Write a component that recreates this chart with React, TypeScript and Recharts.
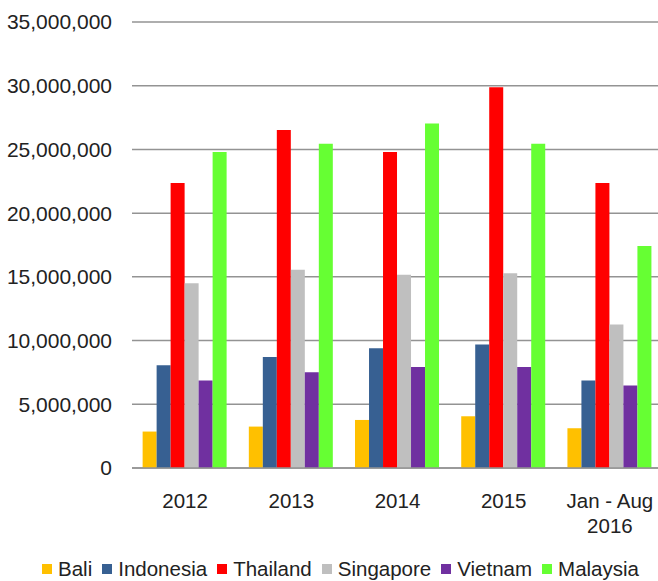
import React from "react";
import { BarChart, Bar, XAxis, YAxis, CartesianGrid, Legend } from "recharts";

if (typeof document !== "undefined") {
  document.body.style.margin = "0";
}

const categories = ["2012", "2013", "2014", "2015", "Jan - Aug\n2016"];
const seriesNames = ["Bali", "Indonesia", "Thailand", "Singapore", "Vietnam", "Malaysia"];
const bali = [2860000, 3250000, 3770000, 4060000, 3120000];
const indonesia = [8060000, 8720000, 9400000, 9690000, 6860000];
const thailand = [22360000, 26520000, 24790000, 29870000, 22360000];
const singapore = [14500000, 15550000, 15160000, 15290000, 11260000];
const vietnam = [6860000, 7520000, 7930000, 7930000, 6470000];
const malaysia = [24790000, 25440000, 27040000, 25440000, 17430000];
const yTicks = [0, 5000000, 10000000, 15000000, 20000000, 25000000, 30000000, 35000000];

const colors = ["#FFC000", "#376092", "#FF0000", "#BFBFBF", "#7030A0", "#66FF33"];
const seriesValues = [bali, indonesia, thailand, singapore, vietnam, malaysia];

const data = categories.map((c, i) => {
  const row: any = { category: c };
  seriesNames.forEach((s, j) => {
    row[s] = seriesValues[j][i];
  });
  return row;
});

const FONT = "'Liberation Sans', Arial, sans-serif";
const TEXT = "#222222";

const XTick = (props: any) => {
  const { x, y, payload } = props;
  const lines = String(payload.value).split("\n");
  return (
    <text x={x} y={y} textAnchor="middle" fill={TEXT} fontSize={20.5} fontFamily={FONT}>
      {lines.map((l, i) => (
        <tspan key={i} x={x} dy={i === 0 ? "0.71em" : 25}>
          {l}
        </tspan>
      ))}
    </text>
  );
};

const LegendContent = () => (
  <div
    style={{
      display: "flex",
      justifyContent: "center",
      alignItems: "center",
      height: 24,
      paddingLeft: 18,
      fontFamily: FONT,
      fontSize: 20.5,
      color: TEXT,
      whiteSpace: "nowrap",
    }}
  >
    {seriesNames.map((s, i) => (
      <div key={s} style={{ display: "flex", alignItems: "center", marginRight: i < seriesNames.length - 1 ? 10 : 0 }}>
        <span style={{ display: "inline-block", width: 10, height: 10, background: colors[i], marginRight: 6 }} />
        <span style={{ lineHeight: "24px" }}>{s}</span>
      </div>
    ))}
  </div>
);

export default function App() {
  return (
    <div style={{ width: 658, height: 581, overflow: "hidden", background: "#fff" }}>
      <BarChart
        width={680}
        height={581}
        data={data}
        margin={{ top: 22, right: 17, bottom: 0, left: 0 }}
        barCategoryGap="10%"
        barGap={0}
      >
        <CartesianGrid vertical={false} stroke="#939393" strokeWidth={1.5} />
        <XAxis
          dataKey="category"
          interval={0}
          height={89}
          tickLine={false}
          tickSize={0}
          tickMargin={25}
          axisLine={{ stroke: "#939393", strokeWidth: 1.5 }}
          tick={<XTick />}
        />
        <YAxis
          width={132}
          domain={[0, 35000000]}
          ticks={yTicks}
          axisLine={false}
          tickLine={false}
          tickSize={0}
          tickMargin={20}
          tickFormatter={(v: number) => v.toLocaleString("en-US")}
          tick={{ fill: TEXT, fontSize: 21, fontFamily: FONT }}
        />
        <Legend verticalAlign="bottom" height={24} content={<LegendContent />} />
        {seriesNames.map((s, i) => (
          <Bar key={s} dataKey={s} fill={colors[i]} isAnimationActive={false} />
        ))}
      </BarChart>
    </div>
  );
}
